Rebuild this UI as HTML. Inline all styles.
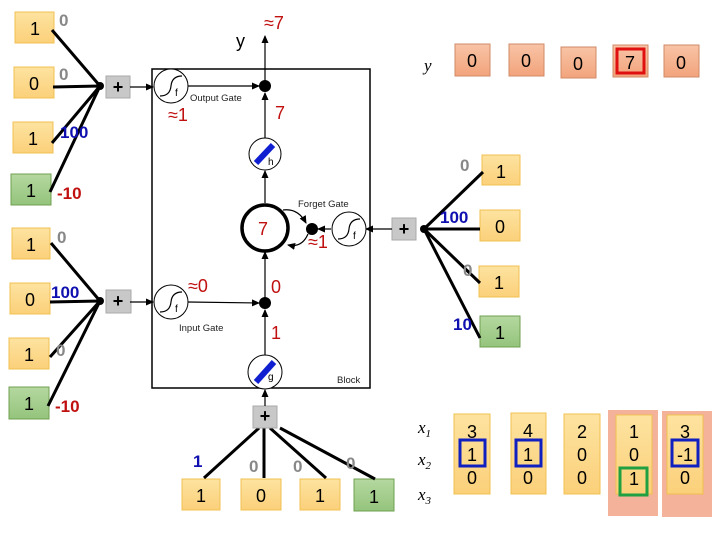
<!DOCTYPE html>
<html><head><style>body{margin:0;background:#fff}svg{display:block}</style></head><body>
<svg width="720" height="540" xmlns="http://www.w3.org/2000/svg" font-family="Liberation Sans, sans-serif">
<defs>
<marker id="a" markerWidth="8" markerHeight="8" refX="7" refY="4" orient="auto" markerUnits="userSpaceOnUse"><path d="M0,0.5L8,4L0,7.5z" fill="#000"/></marker>
<linearGradient id="y" x1="0" y1="0" x2="0" y2="1"><stop offset="0" stop-color="#fde3a0"/><stop offset="1" stop-color="#fbd07a"/></linearGradient>
<linearGradient id="g" x1="0" y1="0" x2="0" y2="1"><stop offset="0" stop-color="#b5d8a0"/><stop offset="1" stop-color="#94c47c"/></linearGradient>
<linearGradient id="s" x1="0" y1="0" x2="0" y2="1"><stop offset="0" stop-color="#f8c4a6"/><stop offset="1" stop-color="#f2a47c"/></linearGradient>
</defs>
<g stroke-width="1">
<!-- left top inputs -->
<rect x="15" y="12" width="39" height="31" fill="url(#y)" stroke="#f0c050"/>
<rect x="14" y="67" width="40" height="31" fill="url(#y)" stroke="#f0c050"/>
<rect x="13" y="122" width="40" height="31" fill="url(#y)" stroke="#f0c050"/>
<rect x="11" y="174" width="40" height="31" fill="url(#g)" stroke="#70a050"/>
<rect x="12" y="228" width="38" height="31" fill="url(#y)" stroke="#f0c050"/>
<rect x="10" y="283" width="40" height="31" fill="url(#y)" stroke="#f0c050"/>
<rect x="9" y="338" width="40" height="31" fill="url(#y)" stroke="#f0c050"/>
<rect x="9" y="387" width="40" height="32" fill="url(#g)" stroke="#70a050"/>
<!-- right inputs -->
<rect x="482" y="155" width="38" height="30" fill="url(#y)" stroke="#f0c050"/>
<rect x="480" y="210" width="40" height="31" fill="url(#y)" stroke="#f0c050"/>
<rect x="479" y="266" width="40" height="31" fill="url(#y)" stroke="#f0c050"/>
<rect x="480" y="316" width="40" height="31" fill="url(#g)" stroke="#70a050"/>
<!-- bottom inputs -->
<rect x="182" y="479" width="38" height="31" fill="url(#y)" stroke="#f0c050"/>
<rect x="241" y="479" width="40" height="31" fill="url(#y)" stroke="#f0c050"/>
<rect x="300" y="479" width="40" height="31" fill="url(#y)" stroke="#f0c050"/>
<rect x="354" y="479" width="40" height="32" fill="url(#g)" stroke="#70a050"/>
</g>
<!-- fan lines -->
<g stroke="#000" stroke-width="3" fill="none">
<path d="M52,30L100,86M53,87L100,86M52,143L100,86M50,192L100,86"/>
<path d="M51,243L100,301M50,302L100,301M50,357L100,301M48,406L100,301"/>
<path d="M424,229L483,172M424,229L480,229M424,229L480,283M424,229L480,338"/>
<path d="M204,478L259,428M264,478L264,428M326,478L270,428M375,479L280,428"/>
</g>
<circle cx="100" cy="86" r="4"/><circle cx="100" cy="301" r="4"/><circle cx="424" cy="229" r="4"/>
<!-- plus boxes -->
<g fill="#c8c8c8" stroke="#aaa">
<rect x="106" y="76" width="24" height="22"/><rect x="106" y="290" width="25" height="23"/>
<rect x="392" y="218" width="24" height="22"/><rect x="253" y="406" width="24" height="22"/>
</g>
<g font-size="18" font-weight="bold" text-anchor="middle"><text x="118" y="93">+</text><text x="118" y="307">+</text><text x="404" y="235">+</text><text x="265" y="422">+</text></g>
<!-- block -->
<rect x="152" y="69" width="218" height="319" fill="none" stroke="#000" stroke-width="1.5"/>
<g stroke="#000" stroke-width="1.2" fill="none" marker-end="url(#a)">
<path d="M130,87L153,87"/><path d="M188,86L259,86"/><path d="M265,138L265,93"/><path d="M265,86L265,36"/>
<path d="M265,203L265,171"/><path d="M331,229L318,229"/><path d="M392,229L366,229"/>
<path d="M130,302L153,302"/><path d="M188,302L259,303"/><path d="M265,355L265,310"/><path d="M265,303L265,252"/>
<path d="M265,406L265,390"/>
<path d="M283,210Q298,208 306,223"/><path d="M308,234Q302,248 288,245"/>
</g>
<circle cx="171" cy="86" r="17" fill="#fff" stroke="#000"/>
<circle cx="171" cy="302" r="17" fill="#fff" stroke="#000"/>
<circle cx="349" cy="229" r="17" fill="#fff" stroke="#000"/>
<g fill="none" stroke="#000" stroke-width="1.2"><path d="M160,96Q170,96 171,86T182,76"/><path d="M160,312Q170,312 171,302T182,292"/><path d="M338,239Q348,239 349,229T360,219"/></g>
<g font-size="10"><text x="175" y="96">f</text><text x="175" y="312">f</text><text x="353" y="239">f</text></g>
<circle cx="265" cy="86" r="6"/><circle cx="265" cy="303" r="6"/><circle cx="312" cy="229" r="6"/>
<circle cx="265" cy="154" r="16" fill="#fff" stroke="#000"/>
<path d="M256,163L273,145" stroke="#1020d0" stroke-width="6"/><text x="268" y="165" font-size="10">h</text>
<circle cx="265" cy="372" r="17" fill="#fff" stroke="#000"/>
<path d="M256,382L274,362" stroke="#1020d0" stroke-width="6"/><text x="268" y="380" font-size="10">g</text>
<circle cx="265" cy="228" r="23" fill="#fff" stroke="#000" stroke-width="3.5"/>
<g font-size="9.5" fill="#222"><text x="190" y="101">Output Gate</text><text x="298" y="207">Forget Gate</text><text x="179" y="331">Input Gate</text><text x="337" y="383">Block</text></g>
<!-- red values -->
<g fill="#c01010" font-size="18"><text x="264" y="29">≈7</text><text x="168" y="121">≈1</text><text x="275" y="119">7</text><text x="258" y="235">7</text><text x="308" y="248">≈1</text><text x="188" y="292">≈0</text><text x="271" y="293">0</text><text x="271" y="339">1</text></g>
<text x="236" y="47" font-size="18">y</text>
<!-- input values -->
<g font-size="18" text-anchor="middle"><text x="35" y="35">1</text><text x="34" y="90">0</text><text x="33" y="145">1</text><text x="31" y="197">1</text><text x="31" y="251">1</text><text x="30" y="306">0</text><text x="29" y="361">1</text><text x="29" y="410">1</text>
<text x="501" y="178">1</text><text x="500" y="233">0</text><text x="499" y="289">1</text><text x="500" y="339">1</text>
<text x="201" y="502">1</text><text x="261" y="502">0</text><text x="320" y="502">1</text><text x="374" y="503">1</text></g>
<!-- weights -->
<g font-size="17" font-weight="bold">
<text x="59" y="26" fill="#888">0</text><text x="59" y="80" fill="#888">0</text><text x="60" y="138" fill="#1010b0">100</text><text x="57" y="199" fill="#c01010">-10</text>
<text x="57" y="243" fill="#888">0</text><text x="51" y="298" fill="#1010b0">100</text><text x="56" y="356" fill="#888">0</text><text x="55" y="412" fill="#c01010">-10</text>
<text x="460" y="171" fill="#888">0</text><text x="440" y="223" fill="#1010b0">100</text><text x="463" y="276" fill="#888">0</text><text x="453" y="330" fill="#1010b0">10</text>
<text x="193" y="467" fill="#1010b0">1</text><text x="249" y="472" fill="#888">0</text><text x="293" y="472" fill="#888">0</text><text x="346" y="469" fill="#888">0</text>
</g>
<!-- y row -->
<text x="424" y="71" font-size="17" font-style="italic" font-family="Liberation Serif, serif">y</text>
<g fill="url(#s)" stroke="#d08a66"><rect x="455" y="44" width="35" height="32"/><rect x="509" y="44" width="35" height="32"/><rect x="561" y="47" width="35" height="31"/><rect x="613" y="45" width="35" height="32"/><rect x="664" y="45" width="35" height="32"/></g>
<rect x="617" y="49" width="27" height="24" fill="none" stroke="#e01010" stroke-width="3"/>
<g font-size="18" text-anchor="middle"><text x="472" y="67">0</text><text x="526" y="67">0</text><text x="578" y="70">0</text><text x="630" y="69">7</text><text x="681" y="69">0</text></g>
<!-- x table -->
<g font-size="17" font-style="italic" font-family="Liberation Serif, serif"><text x="418" y="433">x<tspan font-size="11" dy="4">1</tspan></text><text x="418" y="465">x<tspan font-size="11" dy="4">2</tspan></text><text x="418" y="500">x<tspan font-size="11" dy="4">3</tspan></text></g>
<rect x="608" y="410" width="50" height="106" fill="#f4b29a"/><rect x="662" y="411" width="50" height="106" fill="#f4b29a"/>
<g fill="url(#y)" stroke="#f0c050"><rect x="454" y="414" width="36" height="80"/><rect x="511" y="413" width="35" height="81"/><rect x="564" y="414" width="36" height="80"/><rect x="616" y="415" width="36" height="79"/><rect x="667" y="415" width="36" height="79"/></g>
<g font-size="18" text-anchor="middle">
<text x="472" y="438">3</text><text x="472" y="461">1</text><text x="472" y="484">0</text>
<text x="528" y="437">4</text><text x="528" y="461">1</text><text x="528" y="484">0</text>
<text x="582" y="438">2</text><text x="582" y="461">0</text><text x="582" y="484">0</text>
<text x="634" y="438">1</text><text x="634" y="461">0</text><text x="634" y="485">1</text>
<text x="685" y="438">3</text><text x="685" y="461">-1</text><text x="685" y="484">0</text></g>
<g fill="none" stroke-width="3"><rect x="460" y="440" width="25" height="26" stroke="#1020c0"/><rect x="516" y="440" width="25" height="26" stroke="#1020c0"/><rect x="672" y="440" width="26" height="26" stroke="#1020c0"/><rect x="620" y="468" width="27" height="27" stroke="#20a040"/></g>
</svg>
</body></html>
